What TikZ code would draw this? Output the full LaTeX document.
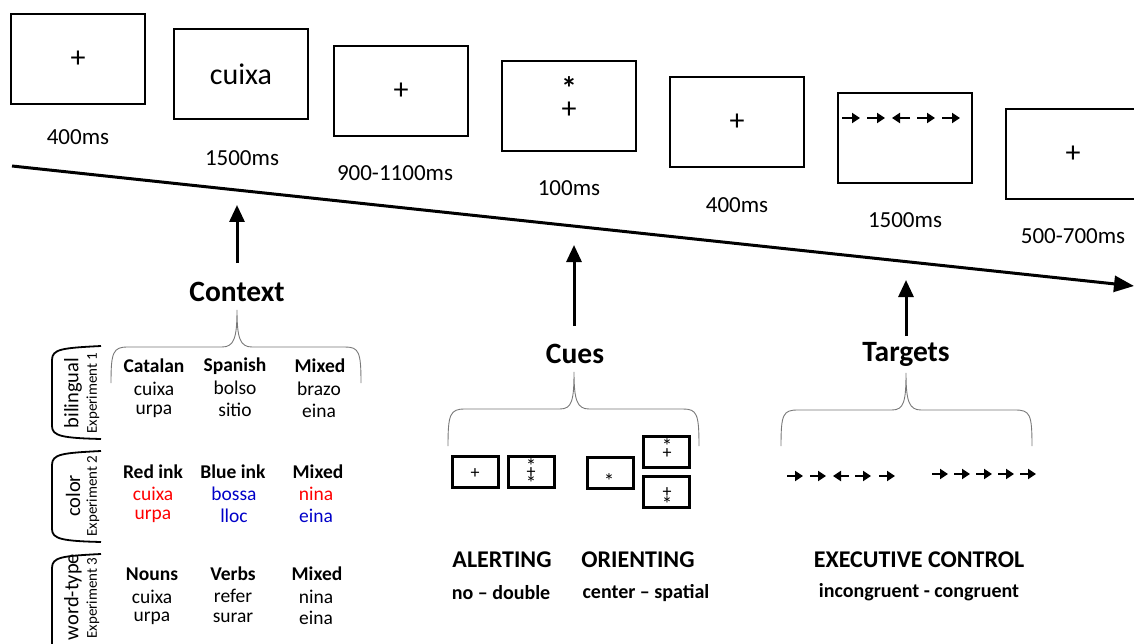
\documentclass[tikz,border=0pt]{standalone}
\usepackage{fontspec}
\setmainfont{Carlito}
\usetikzlibrary{arrows.meta}
\definecolor{inkred}{RGB}{255,0,0}
\definecolor{inkblue}{RGB}{0,0,200}
\definecolor{bracegray}{RGB}{120,120,120}
\newcommand{\fsz}[1]{\fontsize{#1}{#1}\selectfont}

\begin{document}
\begin{tikzpicture}[x=1pt,y=-1pt,
    screen/.style={draw,line width=2.5pt,minimum width=134pt,minimum height=90pt,inner sep=0pt,font=\fsz{30}},
    cuebox/.style={draw,line width=3pt,minimum width=46pt,minimum height=31pt,inner sep=0pt},
    dur/.style={font=\fsz{23}},
    head/.style={font=\bfseries\fsz{29.5}},
    cell/.style={font=\fsz{19.5},inner sep=0pt},
    cellhead/.style={font=\bfseries\fsz{19.5},inner sep=0pt},
    plus/.style={font=\fsz{18},inner sep=0pt},
    star/.style={font=\fsz{21},inner sep=0pt},
    uparr/.style={line width=3pt,-{Triangle[length=17pt,width=15pt]}},
    flank/.style={line width=2.2pt,-{Triangle[length=8pt,width=10pt]}},
    brk/.style={draw=bracegray,line width=0.9pt},
    expbrk/.style={draw,line width=1.8pt},
    explabel/.style={rotate=90,font=\fsz{20.5},inner sep=0pt},
    expnum/.style={rotate=90,font=\fsz{15},inner sep=0pt}]
  \useasboundingbox (0,0) rectangle (1134,644);

  \node (s1) at (78,59) [screen] {+};
  \node (s2) at (241,74) [screen] {cuixa};
  \node (s3) at (401,91) [screen] {+};
  \node (s4) at (569,106) [screen] {};
  \node (s4sym) at (569,98) [font=\fsz{30},inner sep=0pt,align=center] {{\bfseries\fsz{32}*}\\[-11pt]+};
  \node (s5) at (737,122) [screen] {+};
  \node (s6) at (905,138) [screen] {};
  \node (s7) at (1073,154) [screen] {+};
  \foreach \x/\d in {842/1,867/1,892/-1,917/1,942/1}
    \draw[flank] (\x+9-9*\d,118) -- (\x+9+9*\d,118);

  \node (d1) at (78,137) [dur] {400ms};
  \node (d2) at (242,158) [dur] {1500ms};
  \node (d3) at (395,173) [dur] {900-1100ms};
  \node (d4) at (569,188) [dur] {100ms};
  \node (d5) at (737,205) [dur] {400ms};
  \node (d6) at (905,220) [dur] {1500ms};
  \node (d7) at (1073,236) [dur] {500-700ms};

  \coordinate (t0) at (12,166);
  \coordinate (t1) at (1134,286);
  \draw[line width=3pt,-{Triangle[length=20pt,width=16pt]}] (t0) -- (t1);

  \node (ctx) at (237,292) [head] {Context};
  \node (cues) at (575,354) [head] {Cues};
  \node (tgt) at (906,354) [head] {Targets};
  \coordinate (ctxtail) at (237,263);
  \coordinate (ctxtip) at (237,205);
  \coordinate (cuetail) at (574,326);
  \coordinate (cuetip) at (574,245);
  \coordinate (tgttail) at (906,336);
  \coordinate (tgttip) at (906,280);
  \draw[uparr] (ctxtail) -- (ctxtip);
  \draw[uparr] (cuetail) -- (cuetip);
  \draw[uparr] (tgttail) -- (tgttip);

  \draw[brk] (111,383) .. controls (111,352) and (113,347) .. (128,347) -- (222,347)
    .. controls (234,347) and (237,338) .. (237,310) .. controls (237,338) and (240,347) .. (252,347)
    -- (345,347) .. controls (359,347) and (361,352) .. (361,383);
  \draw[brk] (448,446) .. controls (448,414) and (450,409) .. (465,409) -- (560,409)
    .. controls (572,409) and (574,400) .. (574,372) .. controls (574,400) and (577,409) .. (589,409)
    -- (683,409) .. controls (697,409) and (699,414) .. (699,446);
  \draw[brk] (781,446) .. controls (781,414) and (783,410) .. (798,410) -- (892,410)
    .. controls (904,410) and (906,401) .. (906,373) .. controls (906,401) and (909,410) .. (921,410)
    -- (1015,410) .. controls (1030,410) and (1032,414) .. (1032,446);

  \draw[expbrk] (101,346) .. controls (62,348) and (52,349) .. (52,360) -- (52,426)
    .. controls (52,436) and (62,438) .. (101,439);
  \draw[expbrk] (101,451) .. controls (62,453) and (52,454) .. (52,465) -- (52,529)
    .. controls (52,539) and (62,541) .. (101,542);
  \draw[expbrk] (101,554) .. controls (62,556) and (52,557) .. (52,568) -- (52,660);
  \node (exp1) at (73,393) [explabel] {bilingual};
  \node (exp1n) at (93,393) [expnum] {Experiment 1};
  \node (exp2) at (73,496) [explabel] {color};
  \node (exp2n) at (93,496) [expnum] {Experiment 2};
  \node (exp3) at (73,597) [explabel] {word-type};
  \node (exp3n) at (93,598) [expnum] {Experiment 3};

  \node (cat) at (154,366) [cellhead] {Catalan};
  \node (spa) at (235,366) [cellhead] {Spanish};
  \node (mix1) at (320,366) [cellhead] {Mixed};
  \node (cat1) at (154,389) [cell] {cuixa};
  \node (cat2) at (154,411) [cell] {urpa};
  \node (spa1) at (235,388) [cell] {bolso};
  \node (spa2) at (235,410) [cell] {sitio};
  \node (mix1a) at (319,389) [cell] {brazo};
  \node (mix1b) at (319,411) [cell] {eina};

  \node (red) at (153,472) [cellhead] {Red ink};
  \node (blue) at (233,472) [cellhead] {Blue ink};
  \node (mix2) at (318,472) [cellhead] {Mixed};
  \node (red1) at (153,494) [cell,text=inkred] {cuixa};
  \node (red2) at (153,516) [cell,text=inkred] {urpa};
  \node (blue1) at (234,494) [cell,text=inkblue] {bossa};
  \node (blue2) at (234,516) [cell,text=inkblue] {lloc};
  \node (mix2a) at (316,494) [cell,text=inkred] {nina};
  \node (mix2b) at (316,516) [cell,text=inkblue] {eina};

  \node (noun) at (152,574) [cellhead] {Nouns};
  \node (verb) at (233,574) [cellhead] {Verbs};
  \node (mix3) at (317,574) [cellhead] {Mixed};
  \node (noun1) at (152,597) [cell] {cuixa};
  \node (noun2) at (152,618) [cell] {urpa};
  \node (verb1) at (233,596) [cell] {refer};
  \node (verb2) at (233,618) [cell] {surar};
  \node (mix3a) at (316,597) [cell] {nina};
  \node (mix3b) at (316,618) [cell] {eina};

  \node (cbA) at (475,472) [cuebox] {};
  \node (cbB) at (531,472) [cuebox] {};
  \node (cbC) at (610,473) [cuebox] {};
  \node (cbD) at (666,452) [cuebox] {};
  \node (cbE) at (666,492) [cuebox] {};
  \node (cbAplus) at (475,474) [plus] {+};
  \node (cbBstar1) at (531,466.5) [star] {*};
  \node (cbBplus) at (531,473) [plus] {+};
  \node (cbBstar2) at (531,483.5) [star] {*};
  \node (cbCstar) at (609,481.5) [star] {*};
  \node (cbDstar) at (667,446.5) [star] {*};
  \node (cbDplus) at (667,454) [plus] {+};
  \node (cbEplus) at (667,493) [plus] {+};
  \node (cbEstar) at (667,504.5) [star] {*};

  \foreach \x/\d in {787/1,810/1,833/-1,855/1,879/1}
    \draw[flank] (\x+8-8*\d,476) -- (\x+8+8*\d,476);
  \foreach \x in {932,954,976,998,1020}
    \draw[flank] (\x,474) -- (\x+16,474);

  \node (alert) at (502,560) [font=\bfseries\fsz{24}] {ALERTING};
  \node (orient) at (638,560) [font=\bfseries\fsz{24}] {ORIENTING};
  \node (alertsub) at (501,593) [font=\bfseries\fsz{20}] {no -- double};
  \node (orientsub) at (646,593) [font=\bfseries\fsz{20}] {center -- spatial};
  \node (exec) at (919,560) [font=\bfseries\fsz{24}] {EXECUTIVE CONTROL};
  \node (execsub) at (919,592) [font=\bfseries\fsz{20}] {incongruent - congruent};
\end{tikzpicture}
\end{document}
